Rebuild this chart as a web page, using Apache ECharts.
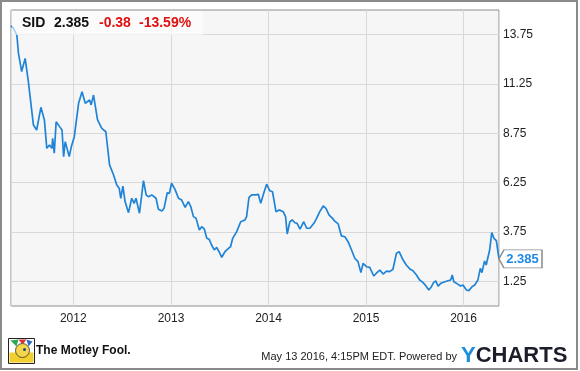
<!DOCTYPE html>
<html>
<head>
<meta charset="utf-8">
<script src="https://cdn.jsdelivr.net/npm/echarts@6/dist/echarts.min.js"></script>
<style>
  html, body { margin: 0; padding: 0; background: #ffffff; }
  #chart { width: 580px; height: 371px; }
</style>
</head>
<body>
<div id="chart"></div>
<script>
// ---- data ----
const ticker = 'SID';
const lastPrice = '2.385';
const change = '-0.38';
const changePct = '-13.59%';
const stampText = 'May 13 2016, 4:15PM EDT. Powered by';
const brandText = 'The Motley Fool.';

const dates = [
  '2011-05-13','2011-05-21','2011-05-28','2011-06-04','2011-06-10','2011-06-22','2011-07-05','2011-07-08',
  '2011-07-17','2011-07-23','2011-08-05','2011-08-11','2011-08-17','2011-09-02','2011-09-15','2011-09-24',
  '2011-10-04','2011-10-13','2011-10-16','2011-10-22','2011-10-29','2011-11-11','2011-11-20','2011-11-26',
  '2011-12-02','2011-12-08','2011-12-17','2011-12-25','2012-01-05','2012-01-21','2012-02-03','2012-02-15',
  '2012-03-02','2012-03-08','2012-03-17','2012-04-01','2012-04-17','2012-05-02','2012-05-16','2012-05-31',
  '2012-06-12','2012-06-21','2012-06-27','2012-07-05','2012-07-13','2012-07-26','2012-08-07','2012-08-16',
  '2012-08-23','2012-09-05','2012-09-20','2012-09-30','2012-10-08','2012-10-21','2012-11-06','2012-11-15',
  '2012-11-28','2012-12-06','2012-12-18','2012-12-26','2013-01-03','2013-01-16','2013-01-29','2013-02-10',
  '2013-02-23','2013-03-07','2013-03-16','2013-03-26','2013-04-05','2013-04-17','2013-04-26','2013-05-06',
  '2013-05-15','2013-05-24','2013-06-02','2013-06-12','2013-06-21','2013-06-30','2013-07-10','2013-07-22',
  '2013-08-04','2013-08-12','2013-08-20','2013-09-04','2013-09-19','2013-10-05','2013-10-11','2013-10-20',
  '2013-10-30','2013-11-05','2013-11-15','2013-11-24','2013-12-03','2013-12-12','2013-12-25','2014-01-06',
  '2014-01-16','2014-01-29','2014-02-10','2014-02-25','2014-03-06','2014-03-12','2014-03-22','2014-03-31',
  '2014-04-10','2014-04-18','2014-04-29','2014-05-13','2014-05-24','2014-06-05','2014-06-20','2014-06-30',
  '2014-07-12','2014-07-25','2014-08-04','2014-08-16','2014-08-29','2014-09-06','2014-09-19','2014-10-01',
  '2014-10-14','2014-10-26','2014-11-08','2014-11-20','2014-12-02','2014-12-13','2014-12-21','2014-12-27',
  '2015-01-03','2015-01-15','2015-01-22','2015-01-30','2015-02-09','2015-02-22','2015-03-06','2015-03-19',
  '2015-03-31','2015-04-12','2015-04-25','2015-05-05','2015-05-20','2015-06-01','2015-06-14','2015-06-26',
  '2015-07-09','2015-07-21','2015-08-02','2015-08-11','2015-08-24','2015-09-03','2015-09-11','2015-09-19',
  '2015-09-28','2015-10-08','2015-10-23','2015-11-04','2015-11-14','2015-11-20','2015-11-26','2015-12-09',
  '2015-12-21','2015-12-30','2016-01-12','2016-01-21','2016-02-02','2016-02-12','2016-02-24','2016-03-04',
  '2016-03-10','2016-03-20','2016-03-26','2016-04-01','2016-04-08','2016-04-16','2016-04-24','2016-05-03',
  '2016-05-13'
];
const prices = [
  14.2,14.1,13.9,13.73,12.8,11.88,12.55,12.5,
  11.37,11.29,9.17,9.1,8.92,10.07,9.43,7.99,
  8.16,7.99,8.5,7.74,9.34,9.09,8.92,7.57,
  8.33,8.33,7.57,8.08,8.58,10.27,10.86,10.27,
  10.44,10.19,10.69,9.43,9.0,8.83,7.15,6.64,
  6.13,5.97,5.46,6.08,5.29,4.73,5.46,5.2,
  5.46,4.7,6.35,5.63,5.54,5.63,5.46,4.9,
  4.81,4.95,5.74,5.71,6.22,5.91,5.46,5.37,
  5.0,5.29,5.04,4.53,4.44,3.85,4.02,3.89,
  3.43,3.38,3.09,2.84,2.97,2.75,2.47,2.75,
  2.92,3.0,3.43,3.77,4.27,4.36,4.53,5.51,
  5.63,5.71,5.63,5.66,5.2,5.63,6.17,5.84,
  5.79,4.78,4.87,4.78,4.53,3.65,4.27,4.36,
  4.22,4.19,3.9,4.27,3.94,3.94,4.19,4.44,
  4.78,5.07,4.95,4.61,4.44,4.3,4.16,3.55,
  3.51,3.26,2.84,2.42,2.25,1.69,2.16,2.21,
  1.99,1.96,1.86,1.52,1.66,1.82,1.62,1.77,
  1.74,1.86,2.67,2.75,2.33,2.08,1.88,1.79,
  1.57,1.32,1.2,1.06,0.81,0.98,1.18,1.27,
  1.01,1.15,1.23,1.28,1.32,1.57,1.23,1.12,
  1.01,1.06,0.81,0.78,0.98,1.06,1.32,1.91,
  1.69,2.28,2.08,2.16,2.84,3.72,3.43,3.31,
  2.385
];
const yTickLabels = ['1.25','3.75','6.25','8.75','11.25','13.75'];
const xTickLabels = ['2012','2013','2014','2015','2016'];
const xRange = ['2011-05-13','2016-05-13'];
const yRange = [0, 15];

// ---- chart ----
const chart = echarts.init(document.getElementById('chart'), null, { renderer: 'canvas' });
const FONT = '"Liberation Sans", Arial, sans-serif';
const GRID_COLOR = '#d9d9d9';
const LINE_COLOR = '#1f84d8';

const seriesData = dates.map((d, i) => [d, prices[i]]);
const last = seriesData[seriesData.length - 1];

chart.setOption({
  animation: false,
  backgroundColor: '#ffffff',
  grid: {
    left: 11, top: 10, right: 81, bottom: 65,
    show: true, backgroundColor: '#f6f6f6', borderColor: '#8c8c8c', borderWidth: 1,
    containLabel: false, outerBoundsMode: 'none'
  },
  xAxis: {
    type: 'time',
    min: xRange[0], max: xRange[1],
    splitNumber: 5,
    minInterval: 365 * 24 * 3600 * 1000,
    axisLine: { show: false },
    axisTick: { show: false },
    splitLine: { show: true, lineStyle: { color: GRID_COLOR, width: 1 } },
    axisLabel: {
      margin: 7, color: '#222', fontSize: 12, fontFamily: FONT,
      showMinLabel: false, showMaxLabel: false,
      formatter: function (v) {
        const y = String(new Date(v).getFullYear());
        return xTickLabels.indexOf(y) >= 0 ? y : '';
      }
    }
  },
  yAxis: {
    type: 'value',
    position: 'right',
    min: yRange[0], max: yRange[1], interval: 1.25,
    axisLine: { show: false },
    axisTick: { show: false },
    splitLine: { show: true, lineStyle: { color: ['rgba(0,0,0,0)', GRID_COLOR], width: 1 } },
    axisLabel: {
      margin: 4, color: '#222', fontSize: 12, fontFamily: FONT,
      formatter: function (v) {
        const s = (Math.round(v * 100) / 100).toFixed(2);
        return yTickLabels.indexOf(s) >= 0 ? s : '';
      }
    }
  },
  series: [{
    type: 'line',
    data: seriesData,
    showSymbol: false,
    symbol: 'none',
    lineStyle: { color: LINE_COLOR, width: 1.7 },
    z: 3,
    markPoint: {
      silent: true,
      symbol: 'path://M0,9 L5,0 L44,0 L44,18 L5,18 Z',
      symbolSize: [43, 18],
      symbolOffset: [21.5, 0],
      itemStyle: { color: '#ffffff', borderColor: '#8c8c8c', borderWidth: 1 },
      label: {
        show: true, position: 'inside', offset: [2, 0],
        color: '#1e88e5', fontWeight: 'bold', fontSize: 13, fontFamily: FONT,
        formatter: lastPrice
      },
      data: [{ coord: last }]
    }
  }],
  graphic: [
    // outer frame
    { type: 'rect', shape: { x: 1, y: 1, width: 576, height: 368 },
      style: { fill: 'none', stroke: '#8a8a8a', lineWidth: 2 }, z: 100, silent: true },
    // header box
    { type: 'rect', shape: { x: 12, y: 11, width: 191, height: 24 },
      style: { fill: 'rgba(255,255,255,0.6)' }, z: 50, silent: true },
    { type: 'text', left: 22, top: 16, z: 60,
      style: { text: ticker, fill: '#111', font: 'bold 14px ' + FONT } },
    { type: 'text', left: 54, top: 16, z: 60,
      style: { text: lastPrice, fill: '#111', font: 'bold 14px ' + FONT } },
    { type: 'text', left: 99, top: 16, z: 60,
      style: { text: change, fill: '#e01010', font: 'bold 14px ' + FONT } },
    { type: 'text', left: 139, top: 16, z: 60,
      style: { text: changePct, fill: '#e01010', font: 'bold 14px ' + FONT } },
    // motley fool logo (simple)
    { type: 'group', left: 8, top: 338, z: 60, children: [
      { type: 'rect', shape: { x: 0, y: 0, width: 26, height: 25 }, style: { fill: '#ffffff', stroke: '#222', lineWidth: 1 } },
      { type: 'rect', shape: { x: 1, y: 14, width: 24, height: 10 }, style: { fill: '#f2cf2e' } },
      { type: 'circle', shape: { cx: 14, cy: 12, r: 7 }, style: { fill: '#f5d54a', stroke: '#333', lineWidth: 0.8 } },
      { type: 'polygon', shape: { points: [[2,2],[10,1],[8,8]] }, style: { fill: '#2fa84f' } },
      { type: 'polygon', shape: { points: [[10,1],[18,1],[14,6]] }, style: { fill: '#d93232' } },
      { type: 'polygon', shape: { points: [[18,1],[24,3],[20,8]] }, style: { fill: '#2b6cc4' } },
      { type: 'circle', shape: { cx: 16, cy: 11, r: 1.5 }, style: { fill: '#1a3f8a' } }
    ] },
    { type: 'text', left: 36, top: 345, z: 60,
      style: { text: brandText, fill: '#111', font: 'bold 12px ' + FONT } },
    // timestamp + ycharts
    { type: 'text', z: 60,
      style: { x: 457, y: 357, text: stampText, fill: '#222', font: '11px ' + FONT,
               align: 'right', verticalAlign: 'middle' } },
    { type: 'text', left: 461, top: 345, z: 60,
      style: {
        text: '{y|Y}{c|CHARTS}',
        rich: {
          y: { fill: '#1a8fdf', font: 'bold 22px ' + FONT },
          c: { fill: '#1b1d2b', font: 'bold 22px ' + FONT }
        }
      } }
  ]
});
</script>
</body>
</html>
